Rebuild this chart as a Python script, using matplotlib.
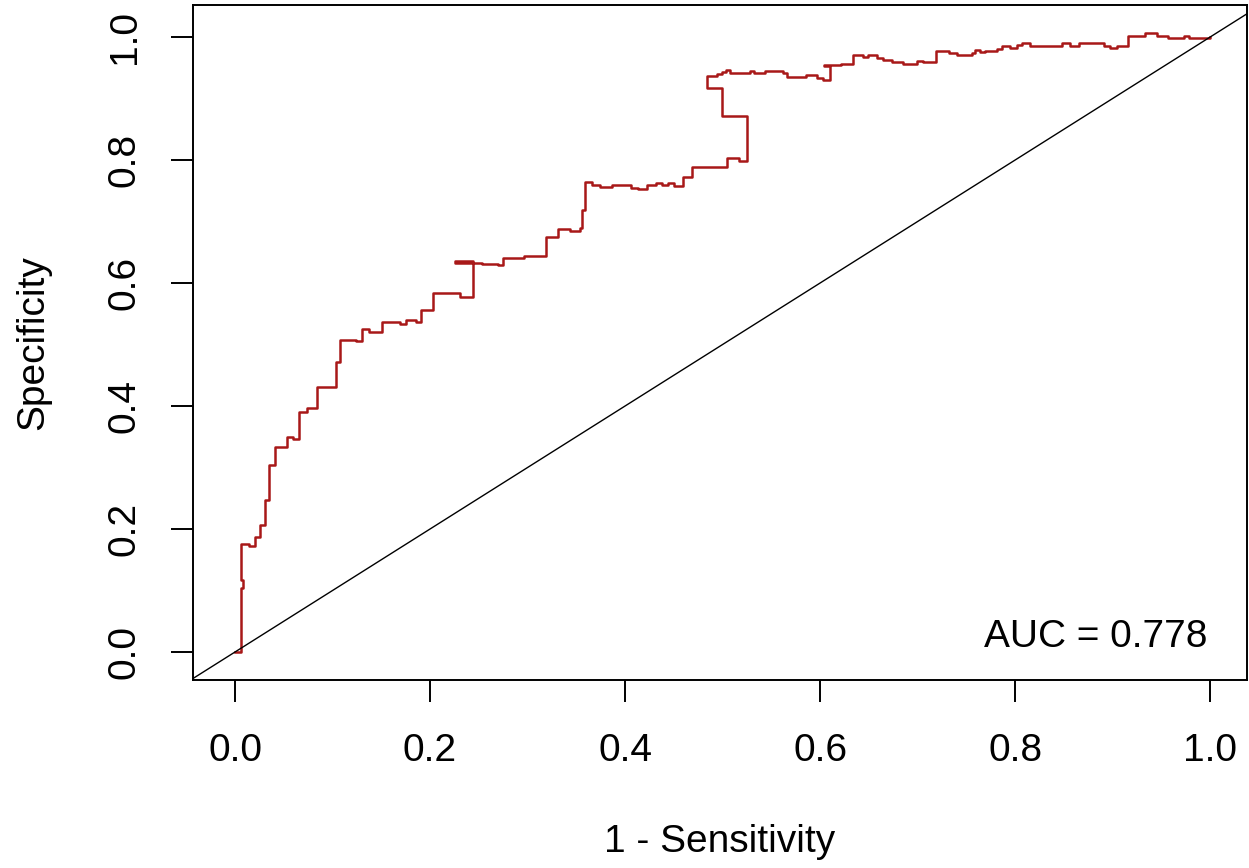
import matplotlib
matplotlib.use("Agg")
import matplotlib.pyplot as plt

plt.rcParams['font.family'] = ['Liberation Sans', 'DejaVu Sans']

# ROC path (steps-post: go across to x, then up/down to y)
one_minus_sens = [0.000, 0.006, 0.008, 0.006, 0.014, 0.020, 0.026, 0.031, 0.035, 0.041,
                  0.053, 0.059, 0.066, 0.074, 0.084, 0.104, 0.108, 0.124, 0.130, 0.137,
                  0.151, 0.169, 0.175, 0.186, 0.191, 0.203, 0.231, 0.244, 0.226, 0.253,
                  0.270, 0.275, 0.296, 0.319, 0.331, 0.344, 0.354, 0.356, 0.359, 0.366,
                  0.374, 0.387, 0.406, 0.413, 0.422, 0.432, 0.438, 0.444, 0.450, 0.459,
                  0.469, 0.505, 0.517, 0.525, 0.499, 0.484, 0.494, 0.499, 0.504, 0.508,
                  0.521, 0.528, 0.532, 0.544, 0.562, 0.566, 0.586, 0.597, 0.603, 0.610,
                  0.604, 0.621, 0.634, 0.644, 0.649, 0.658, 0.665, 0.674, 0.685, 0.699,
                  0.706, 0.719, 0.732, 0.740, 0.756, 0.759, 0.764, 0.769, 0.781, 0.787,
                  0.795, 0.802, 0.807, 0.815, 0.848, 0.856, 0.865, 0.891, 0.897, 0.904,
                  0.916, 0.933, 0.945, 0.957, 0.973, 0.978, 1.000]
specificity = [0.000, 0.104, 0.117, 0.176, 0.172, 0.187, 0.207, 0.247, 0.304, 0.334,
               0.350, 0.346, 0.390, 0.396, 0.431, 0.472, 0.507, 0.505, 0.525, 0.521,
               0.537, 0.533, 0.540, 0.537, 0.556, 0.584, 0.578, 0.635, 0.632, 0.631,
               0.629, 0.640, 0.644, 0.675, 0.688, 0.685, 0.689, 0.719, 0.764, 0.759,
               0.756, 0.759, 0.755, 0.753, 0.759, 0.762, 0.759, 0.762, 0.758, 0.772,
               0.788, 0.803, 0.799, 0.872, 0.917, 0.937, 0.940, 0.943, 0.946, 0.942,
               0.941, 0.944, 0.941, 0.944, 0.942, 0.935, 0.938, 0.934, 0.930, 0.953,
               0.954, 0.956, 0.970, 0.967, 0.971, 0.966, 0.963, 0.959, 0.956, 0.961,
               0.959, 0.978, 0.974, 0.971, 0.974, 0.979, 0.976, 0.977, 0.981, 0.985,
               0.982, 0.987, 0.990, 0.986, 0.990, 0.986, 0.990, 0.986, 0.982, 0.986,
               1.002, 1.007, 1.002, 0.998, 1.001, 0.998, 1.000]

auc_text = "AUC = 0.778"
ticks = [0.0, 0.2, 0.4, 0.6, 0.8, 1.0]
tick_labels = ["0.0", "0.2", "0.4", "0.6", "0.8", "1.0"]

fig = plt.figure(figsize=(12.49, 8.68), dpi=100)
ax = fig.add_axes([0.1545, 0.2166, 0.844, 0.7776])

ax.plot(one_minus_sens, specificity, drawstyle='steps-post', color='#a81818', lw=1.8)
ax.axline((0, 0), (1, 1), color='black', lw=1.0)

ax.set_xlim(-0.0431, 1.0379)
ax.set_ylim(-0.0455, 1.052)

ax.set_xticks(ticks)
ax.set_xticklabels(tick_labels)
ax.set_yticks(ticks)
ax.set_yticklabels(tick_labels, rotation=90, va='center')
ax.tick_params(axis='both', direction='out', length=16, width=1.4,
               labelsize=28, pad=22)
ax.tick_params(axis='y', pad=20)

for sp in ax.spines.values():
    sp.set_linewidth(1.4)

ax.text(0.997, 0.024, auc_text, ha='right', va='center', fontsize=28)

ax.set_xlabel('1 - Sensitivity', fontsize=28, labelpad=40)
ax.set_ylabel('Specificity', fontsize=28, labelpad=40)

plt.savefig('out.png', dpi=100)
